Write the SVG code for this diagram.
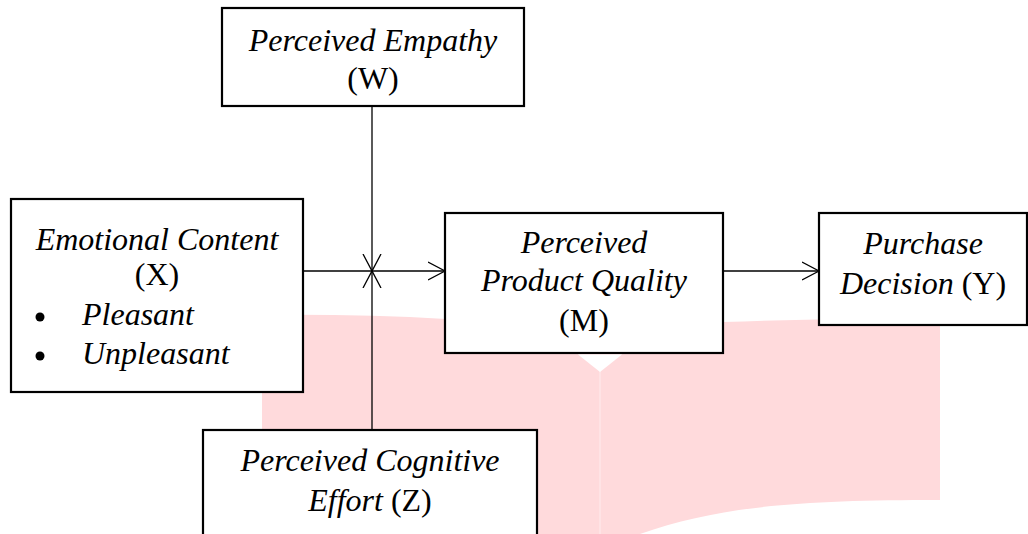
<svg xmlns="http://www.w3.org/2000/svg" width="1028" height="534" viewBox="0 0 1028 534">
<style>
.box{fill:#fff;stroke:#000;stroke-width:2.2}
.t{font-family:"Liberation Serif","Times New Roman",serif;font-size:32px;fill:#000;text-anchor:middle}
.i{font-style:italic}
.s{text-anchor:start}
.ln{stroke:#000;stroke-width:1.3;fill:none}
</style>
<defs>
<marker id="ah" markerWidth="20" markerHeight="20" refX="17" refY="10" orient="auto" markerUnits="userSpaceOnUse">
<path d="M0,1 L17,10 L0,19" fill="none" stroke="#000" stroke-width="1.3"/>
</marker>
</defs>
<g id="bg">
<path d="M262,315 Q360,314 446,319 L723,322 Q830,318 940,319 L940,500 C800,500 720,506 640,534 L262,534 Z" fill="#FFDADC"/>
<line x1="600" y1="360" x2="600" y2="534" stroke="#FFE6E8" stroke-width="1.5"/>
</g>
<g id="connectors">
<line class="ln" x1="372" y1="106" x2="372" y2="271" marker-end="url(#ah)"/>
<line class="ln" x1="372" y1="430" x2="372" y2="271" marker-end="url(#ah)"/>
<line class="ln" x1="303" y1="271" x2="445" y2="271" marker-end="url(#ah)"/>
<line class="ln" x1="723" y1="271" x2="819" y2="271" marker-end="url(#ah)"/>
</g>
<g id="W">
<rect class="box" x="222" y="8" width="302" height="98"/>
<text class="t i" x="373" y="51">Perceived Empathy</text>
<text class="t" x="373" y="89">(W)</text>
</g>
<g id="X">
<rect class="box" x="11" y="199" width="292" height="193"/>
<text class="t i" x="157" y="250">Emotional Content</text>
<text class="t" x="157" y="285">(X)</text>
<circle cx="40" cy="317" r="4.5"/>
<circle cx="40" cy="356" r="4.5"/>
<text class="t i s" x="82" y="325">Pleasant</text>
<text class="t i s" x="82" y="364">Unpleasant</text>
</g>
<g id="M">
<rect class="box" x="445" y="213" width="278" height="140"/>
<path d="M578,354.5 L600,372 L622,354.5 Z" fill="#fff"/>
<text class="t i" x="584" y="253">Perceived</text>
<text class="t i" x="584" y="291">Product Quality</text>
<text class="t" x="584" y="331">(M)</text>
</g>
<g id="Y">
<rect class="box" x="819" y="213" width="208" height="112"/>
<text class="t i" x="923" y="254">Purchase</text>
<text class="t" x="923" y="294"><tspan font-style="italic">Decision</tspan> (Y)</text>
</g>
<g id="Z">
<rect class="box" x="203" y="430" width="334" height="110"/>
<text class="t i" x="370" y="471">Perceived Cognitive</text>
<text class="t" x="370" y="511"><tspan font-style="italic">Effort</tspan> (Z)</text>
</g>
</svg>
